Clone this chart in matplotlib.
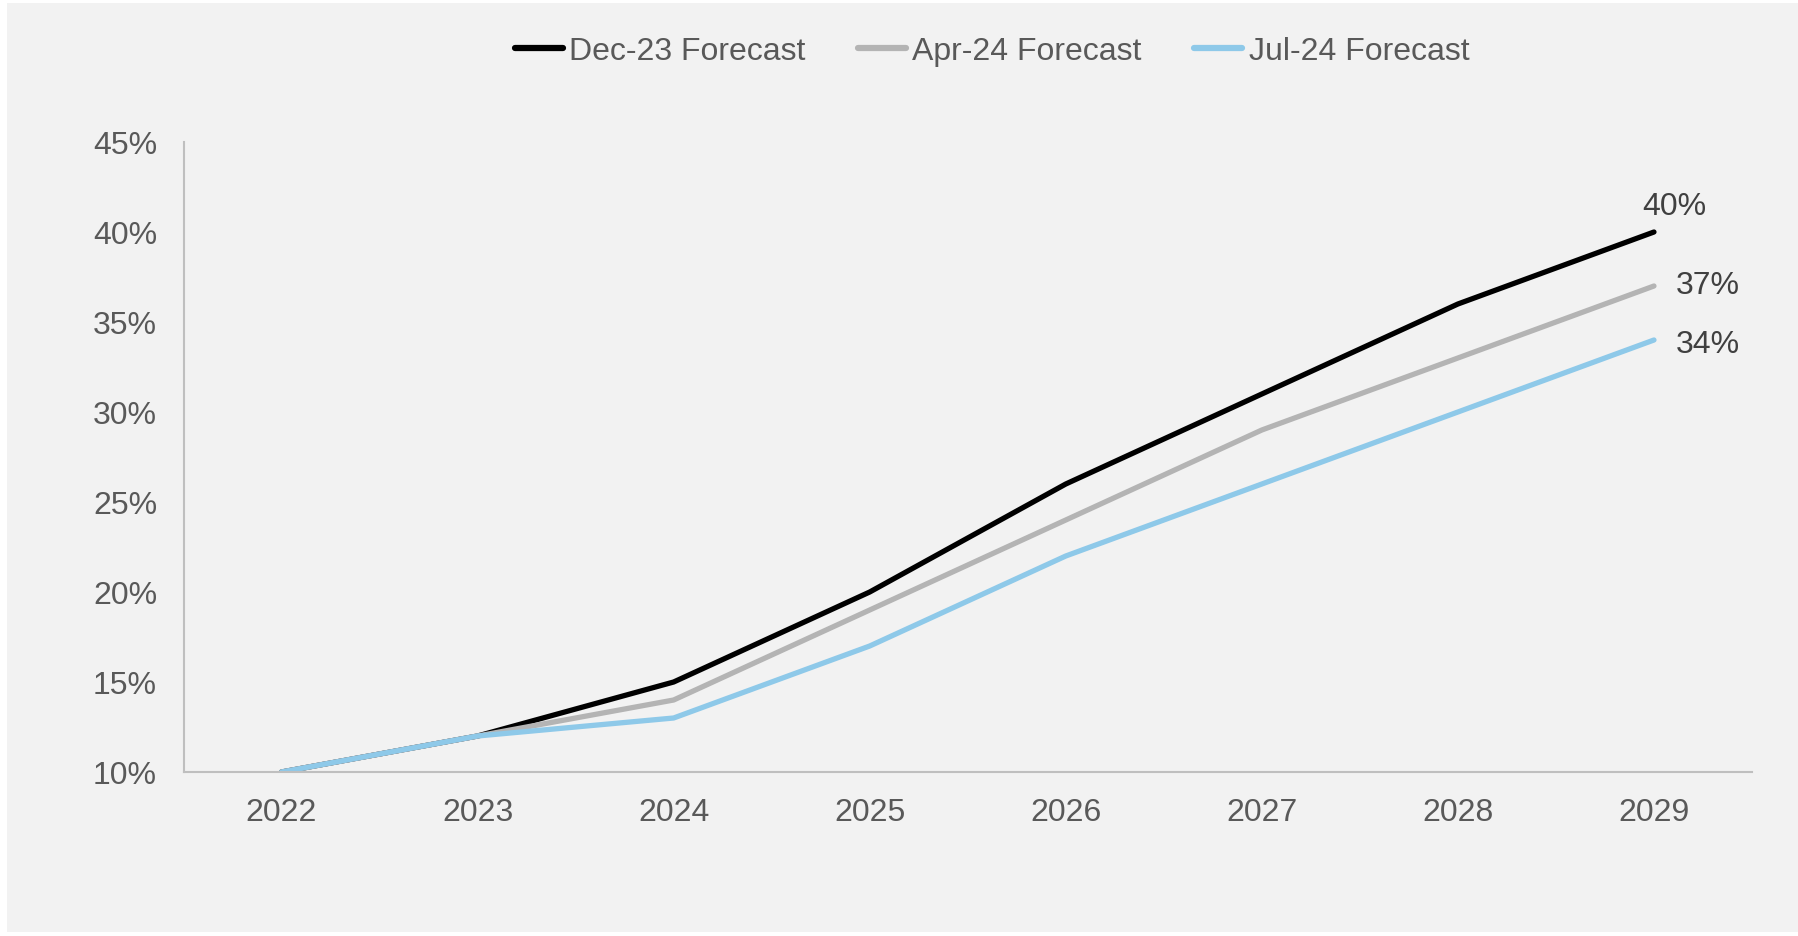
import matplotlib
matplotlib.use("Agg")
import matplotlib.pyplot as plt
from matplotlib.patches import Rectangle

years = ["2022", "2023", "2024", "2025", "2026", "2027", "2028", "2029"]
dec23 = [10, 12, 15, 20, 26, 31, 36, 40]
apr24 = [10, 12, 14, 19, 24, 29, 33, 37]
jul24 = [10, 12, 13, 17, 22, 26, 30, 34]
series_names = ["Dec-23 Forecast", "Apr-24 Forecast", "Jul-24 Forecast"]
series_colors = ["#000000", "#B4B4B4", "#8EC9E9"]
y_ticks = [10, 15, 20, 25, 30, 35, 40, 45]

plt.rcParams["font.family"] = ["Liberation Sans", "DejaVu Sans"]

W, H = 1798, 937
fig = plt.figure(figsize=(W / 100, H / 100), dpi=100, facecolor="white")

# grey panel with thin white margin at left/top/bottom
fig.patches.append(Rectangle((7 / W, (H - 933) / H), 1 - 7 / W, (933 - 4) / H,
                             transform=fig.transFigure, facecolor="#F2F2F2",
                             edgecolor="none", zorder=-10))

ax = fig.add_axes([183.5 / W, 1 - 773 / H, (1752 - 183.5) / W, (773 - 143) / H])
ax.set_facecolor("none")

x = list(range(len(years)))
for vals, name, col in zip([dec23, apr24, jul24], series_names, series_colors):
    ax.plot(x, vals, color=col, lw=3.8, label=name, solid_capstyle="round",
            solid_joinstyle="round")

# end labels
ax.annotate(f"{dec23[-1]}%", (x[-1], dec23[-1]), xytext=(15, 8),
            textcoords="offset points", ha="center", va="bottom",
            fontsize=23, color="#404040")
ax.annotate(f"{apr24[-1]}%", (x[-1], apr24[-1]), xytext=(16, 1),
            textcoords="offset points", ha="left", va="center",
            fontsize=23, color="#404040")
ax.annotate(f"{jul24[-1]}%", (x[-1], jul24[-1]), xytext=(16, -3),
            textcoords="offset points", ha="left", va="center",
            fontsize=23, color="#404040")

ax.set_xlim(-0.5, len(years) - 0.5)
ax.set_ylim(10, 45)
ax.set_xticks(x)
ax.set_xticklabels(years)
ax.set_yticks(y_ticks)
ax.set_yticklabels([f"{v}%" for v in y_ticks])
ax.tick_params(axis="both", length=0, labelsize=23, colors="#595959")
ax.tick_params(axis="y", pad=19)
ax.tick_params(axis="x", pad=18)

for s in ["top", "right"]:
    ax.spines[s].set_visible(False)
for s in ["left", "bottom"]:
    ax.spines[s].set_color("#BFBFBF")
    ax.spines[s].set_linewidth(1.5)

leg = fig.legend(loc="center", bbox_to_anchor=(992 / W, 1 - 52 / H), ncol=3,
                 frameon=False, fontsize=23, handlelength=1.5, handletextpad=0.2,
                 columnspacing=1.65)
for t in leg.get_texts():
    t.set_color("#595959")
for h in leg.get_lines():
    h.set_linewidth(4.5)

fig.savefig("out.png", dpi=100, facecolor=fig.get_facecolor())
